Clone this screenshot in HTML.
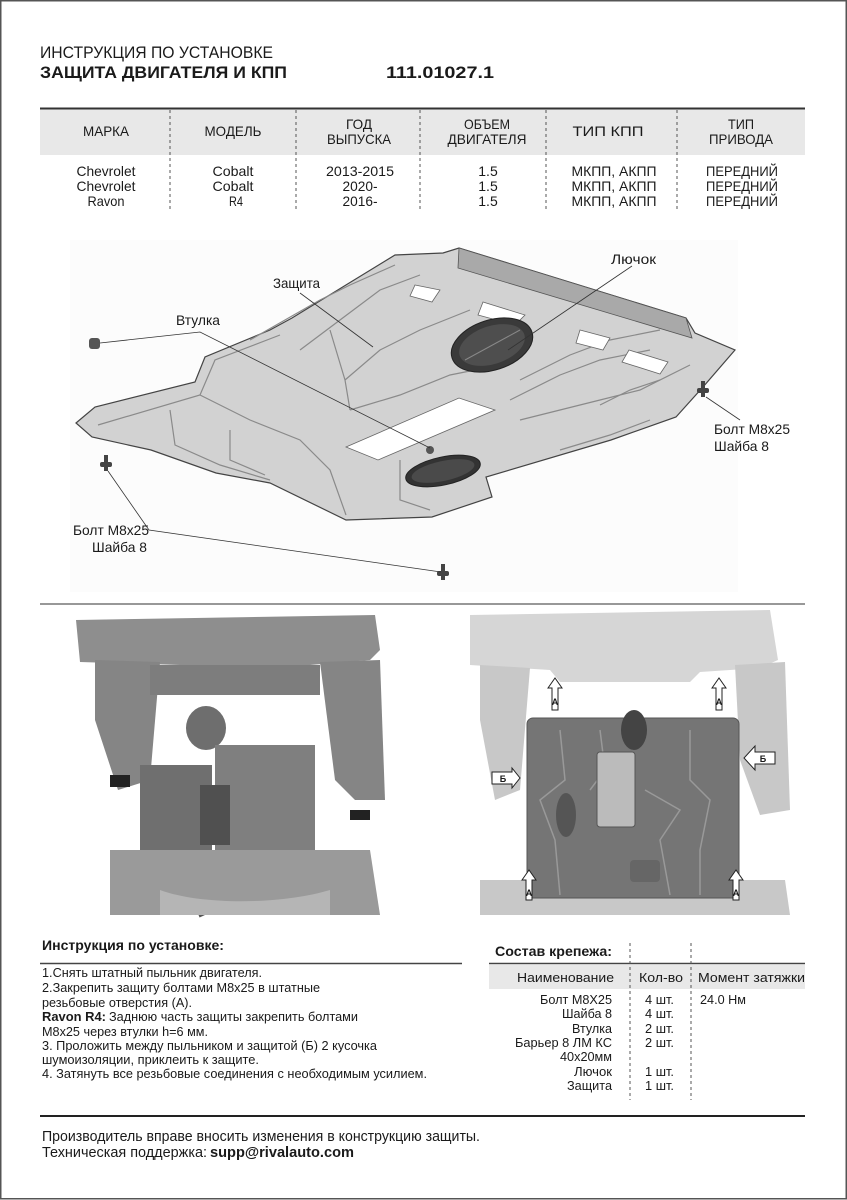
<!DOCTYPE html>
<html><head><meta charset="utf-8"><style>
html,body{margin:0;padding:0;background:#fff}
svg{display:block}
text{font-family:"Liberation Sans Narrow","Liberation Sans",sans-serif;fill:#1a1a1a}
.b{font-weight:bold}
</style></head><body>
<svg width="847" height="1200" viewBox="0 0 847 1200" xmlns="http://www.w3.org/2000/svg">
<rect x="0" y="0" width="847" height="1200" fill="#fff"/>
<rect x="0.75" y="0.75" width="845.5" height="1198" fill="none" stroke="#555" stroke-width="1.5"/>

<!-- Title -->
<text x="40" y="58" font-size="17" textLength="233" lengthAdjust="spacingAndGlyphs">ИНСТРУКЦИЯ ПО УСТАНОВКЕ</text>
<text x="40" y="78" font-size="17" class="b" textLength="247" lengthAdjust="spacingAndGlyphs">ЗАЩИТА ДВИГАТЕЛЯ И КПП</text>
<text x="386" y="78" font-size="17" class="b" textLength="108" lengthAdjust="spacingAndGlyphs">111.01027.1</text>

<!-- Vehicle table -->
<rect x="40" y="108" width="765" height="47" fill="#e8e8e8"/>
<line x1="40" y1="108.5" x2="805" y2="108.5" stroke="#333" stroke-width="2"/>
<g stroke="#555" stroke-width="1" stroke-dasharray="3,3">
<line x1="170" y1="110" x2="170" y2="210"/><line x1="296" y1="110" x2="296" y2="210"/>
<line x1="420" y1="110" x2="420" y2="210"/><line x1="546" y1="110" x2="546" y2="210"/>
<line x1="677" y1="110" x2="677" y2="210"/></g>
<g font-size="14" text-anchor="middle">
<text x="106" y="136" textLength="46" lengthAdjust="spacingAndGlyphs">МАРКА</text>
<text x="233" y="136" textLength="57" lengthAdjust="spacingAndGlyphs">МОДЕЛЬ</text>
<text x="359" y="129" textLength="26" lengthAdjust="spacingAndGlyphs">ГОД</text>
<text x="359" y="144" textLength="64" lengthAdjust="spacingAndGlyphs">ВЫПУСКА</text>
<text x="487" y="129" textLength="46" lengthAdjust="spacingAndGlyphs">ОБЪЕМ</text>
<text x="487" y="144" textLength="79" lengthAdjust="spacingAndGlyphs">ДВИГАТЕЛЯ</text>
<text x="608" y="136" textLength="71" lengthAdjust="spacingAndGlyphs">ТИП КПП</text>
<text x="741" y="129" textLength="26" lengthAdjust="spacingAndGlyphs">ТИП</text>
<text x="741" y="144" textLength="64" lengthAdjust="spacingAndGlyphs">ПРИВОДА</text>
</g>
<g font-size="14" text-anchor="middle">
<text x="106" y="176" textLength="59" lengthAdjust="spacingAndGlyphs">Chevrolet</text>
<text x="106" y="191" textLength="59" lengthAdjust="spacingAndGlyphs">Chevrolet</text>
<text x="106" y="206" textLength="37" lengthAdjust="spacingAndGlyphs">Ravon</text>
<text x="233" y="176" textLength="41" lengthAdjust="spacingAndGlyphs">Cobalt</text>
<text x="233" y="191" textLength="41" lengthAdjust="spacingAndGlyphs">Cobalt</text>
<text x="236" y="206" textLength="14" lengthAdjust="spacingAndGlyphs">R4</text>
<text x="360" y="176" textLength="68" lengthAdjust="spacingAndGlyphs">2013-2015</text>
<text x="360" y="191" textLength="35" lengthAdjust="spacingAndGlyphs">2020-</text>
<text x="360" y="206" textLength="35" lengthAdjust="spacingAndGlyphs">2016-</text>
<text x="488" y="176">1.5</text><text x="488" y="191">1.5</text><text x="488" y="206">1.5</text>
<text x="614" y="176" textLength="85" lengthAdjust="spacingAndGlyphs">МКПП, АКПП</text>
<text x="614" y="191" textLength="85" lengthAdjust="spacingAndGlyphs">МКПП, АКПП</text>
<text x="614" y="206" textLength="85" lengthAdjust="spacingAndGlyphs">МКПП, АКПП</text>
<text x="742" y="176" textLength="72" lengthAdjust="spacingAndGlyphs">ПЕРЕДНИЙ</text>
<text x="742" y="191" textLength="72" lengthAdjust="spacingAndGlyphs">ПЕРЕДНИЙ</text>
<text x="742" y="206" textLength="72" lengthAdjust="spacingAndGlyphs">ПЕРЕДНИЙ</text>
</g>

<!-- Shield illustration -->
<rect x="70" y="240" width="668" height="352" fill="#fcfcfc"/>
<polygon points="76,423 95,407 195,382 205,357 270,330 292,318 395,255 443,253 459,248 686,318 695,333 735,350 703,387 676,417 611,440 486,477 492,497 432,517 346,520 270,483 216,473 151,450 92,437" fill="#d2d2d2" stroke="#444" stroke-width="1.2"/>
<polygon points="459,248 686,318 692,338 458,268" fill="#a9a9a9" stroke="#555" stroke-width="0.8"/>
<g fill="none" stroke="#8a8a8a" stroke-width="1.2">
<path d="M98,425 L200,395 L215,360 L280,335"/>
<path d="M170,410 L175,445 L220,465 L270,480"/>
<path d="M200,395 L250,420 L300,440 L330,470 L346,515"/>
<path d="M250,340 L320,300 L350,285 L395,265"/>
<path d="M300,350 L340,320 L380,290 L420,275"/>
<path d="M345,380 L380,350 L420,330 L470,310"/>
<path d="M350,410 L400,395 L450,375 L500,365"/>
<path d="M520,380 L570,355 L610,340 L660,330"/>
<path d="M510,400 L560,375 L600,360 L650,350"/>
<path d="M520,420 L600,400 L640,390 L690,365"/>
<path d="M400,460 L400,500 L430,510"/>
<path d="M230,430 L230,460 L265,475"/>
<path d="M560,450 L610,435 L650,420"/>
<path d="M330,330 L345,380 L350,410"/>
<path d="M600,405 L630,390 L660,380"/>
</g>
<g fill="#fff" stroke="#666" stroke-width="0.8">
<polygon points="346,447 459,398 495,410 378,460"/>
<polygon points="415,285 440,290 432,302 410,296"/>
<polygon points="483,302 525,315 515,325 478,315"/>
<polygon points="580,330 610,338 603,350 576,343"/>
<polygon points="629,350 668,362 660,374 622,362"/>
</g>
<ellipse cx="492" cy="345" rx="42" ry="25" transform="rotate(-18 492 345)" fill="#3a3a3a" stroke="#222"/>
<ellipse cx="492" cy="345" rx="34" ry="19" transform="rotate(-18 492 345)" fill="#4e4e4e"/>
<line x1="465" y1="360" x2="520" y2="330" stroke="#888" stroke-width="1"/>
<ellipse cx="443" cy="471" rx="38" ry="14" transform="rotate(-12 443 471)" fill="#333" stroke="#222"/>
<ellipse cx="443" cy="471" rx="32" ry="10" transform="rotate(-12 443 471)" fill="#4a4a4a"/>
<circle cx="430" cy="450" r="4" fill="#555"/>
<!-- fasteners -->
<rect x="89" y="338" width="11" height="11" rx="3" fill="#555"/>
<g fill="#444">
<rect x="701" y="381" width="4" height="16"/><rect x="697" y="388" width="12" height="5" rx="2"/>
<rect x="104" y="455" width="4" height="16"/><rect x="100" y="462" width="12" height="5" rx="2"/>
<rect x="441" y="564" width="4" height="16"/><rect x="437" y="571" width="12" height="5" rx="2"/>
</g>
<!-- leader lines -->
<g stroke="#333" stroke-width="0.8" fill="none">
<polyline points="632,266 508,350"/>
<polyline points="300,293 373,347"/>
<polyline points="100,343 200,332 430,448"/>
<polyline points="706,397 740,420"/>
<polyline points="108,471 149,530 441,572"/>
</g>
<g font-size="14">
<text x="611" y="264" textLength="45" lengthAdjust="spacingAndGlyphs">Лючок</text>
<text x="273" y="288" textLength="47" lengthAdjust="spacingAndGlyphs">Защита</text>
<text x="176" y="325" textLength="44" lengthAdjust="spacingAndGlyphs">Втулка</text>
<text x="714" y="434" textLength="76" lengthAdjust="spacingAndGlyphs">Болт М8х25</text>
<text x="714" y="451" textLength="55" lengthAdjust="spacingAndGlyphs">Шайба 8</text>
<text x="73" y="535" textLength="76" lengthAdjust="spacingAndGlyphs">Болт М8х25</text>
<text x="92" y="552" textLength="55" lengthAdjust="spacingAndGlyphs">Шайба 8</text>
</g>

<line x1="40" y1="604" x2="805" y2="604" stroke="#777" stroke-width="1.5"/>

<!-- Left photo -->
<g>
<path d="M76,620 L375,615 L380,650 L370,660 L310,665 L300,672 L190,672 L180,665 L80,662 Z" fill="#8e8e8e"/>
<path d="M95,660 L160,662 L150,780 L118,790 L95,720 Z" fill="#858585"/>
<path d="M320,662 L380,660 L385,800 L355,800 L335,780 Z" fill="#858585"/>
<rect x="150" y="665" width="170" height="30" fill="#7d7d7d"/>
<ellipse cx="206" cy="728" rx="20" ry="22" fill="#6e6e6e"/>
<rect x="140" y="765" width="72" height="90" fill="#6f6f6f"/>
<rect x="215" y="745" width="100" height="110" fill="#7f7f7f"/>
<rect x="200" y="785" width="30" height="60" fill="#505050"/>
<path d="M205,860 C195,880 198,900 205,915" stroke="#555" stroke-width="12" fill="none"/>
<path d="M110,850 L370,850 L380,915 L110,915 Z" fill="#9a9a9a"/>
<path d="M160,890 C200,905 280,905 330,890 L330,915 L160,915 Z" fill="#b5b5b5"/>
<rect x="110" y="775" width="20" height="12" fill="#222"/>
<rect x="350" y="810" width="20" height="10" fill="#222"/>
</g>

<!-- Right photo -->
<g>
<path d="M470,615 L770,610 L778,660 L760,668 L700,672 L690,682 L560,682 L550,670 L470,665 Z" fill="#d6d6d6"/>
<path d="M480,665 L530,668 L520,790 L495,800 L480,720 Z" fill="#c8c8c8"/>
<path d="M735,665 L785,662 L790,810 L760,815 L740,760 Z" fill="#c8c8c8"/>
<path d="M480,880 L785,880 L790,915 L480,915 Z" fill="#c8c8c8"/>
<rect x="527" y="718" width="212" height="180" rx="6" fill="#757575" stroke="#555"/>
<g fill="none" stroke="#999" stroke-width="1.5">
<path d="M560,730 L565,780 L540,800 L555,840 L560,895"/>
<path d="M600,730 L605,770 L590,790"/>
<path d="M690,730 L690,780 L710,800 L700,850 L700,895"/>
<path d="M645,790 L680,810 L660,840 L670,895"/>
</g>
<ellipse cx="634" cy="730" rx="13" ry="20" fill="#444"/>
<rect x="597" y="752" width="38" height="75" rx="3" fill="#bbb" stroke="#555"/>
<ellipse cx="566" cy="815" rx="10" ry="22" fill="#555"/>
<rect x="630" y="860" width="30" height="22" rx="4" fill="#666"/>
<g fill="#fff" stroke="#222" stroke-width="1">
<polygon points="548,688 555,678 562,688 558,688 558,710 552,710 552,688"/>
<polygon points="712,688 719,678 726,688 722,688 722,710 716,710 716,688"/>
<polygon points="522,880 529,870 536,880 532,880 532,900 526,900 526,880"/>
<polygon points="729,880 736,870 743,880 739,880 739,900 733,900 733,880"/>
<polygon points="492,772 512,772 512,768 520,778 512,788 512,784 492,784"/>
<polygon points="775,752 755,752 755,746 744,758 755,770 755,764 775,764"/>
</g>
<g font-size="9" class="b" text-anchor="middle">
<text x="555" y="705">А</text><text x="719" y="705">А</text>
<text x="529" y="896">А</text><text x="736" y="896">А</text>
<text x="503" y="782">Б</text><text x="763" y="762">Б</text>
</g>
</g>

<!-- Instructions -->
<text x="42" y="950" font-size="14" class="b" textLength="182" lengthAdjust="spacingAndGlyphs">Инструкция по установке:</text>
<line x1="40" y1="963.5" x2="462" y2="963.5" stroke="#444" stroke-width="1.5"/>
<g font-size="13">
<text x="42" y="977" textLength="220" lengthAdjust="spacingAndGlyphs">1.Снять штатный пыльник двигателя.</text>
<text x="42" y="992" textLength="278" lengthAdjust="spacingAndGlyphs">2.Закрепить защиту болтами М8х25 в штатные</text>
<text x="42" y="1007" textLength="150" lengthAdjust="spacingAndGlyphs">резьбовые отверстия (А).</text>
<text x="42" y="1021" class="b" textLength="64" lengthAdjust="spacingAndGlyphs">Ravon R4:</text>
<text x="109" y="1021" textLength="249" lengthAdjust="spacingAndGlyphs">Заднюю часть защиты закрепить болтами</text>
<text x="42" y="1036" textLength="166" lengthAdjust="spacingAndGlyphs">М8х25 через втулки h=6 мм.</text>
<text x="42" y="1050" textLength="335" lengthAdjust="spacingAndGlyphs">3. Проложить между пыльником и защитой (Б) 2 кусочка</text>
<text x="42" y="1064" textLength="217" lengthAdjust="spacingAndGlyphs">шумоизоляции, приклеить к защите.</text>
<text x="42" y="1078" textLength="385" lengthAdjust="spacingAndGlyphs">4. Затянуть все резьбовые соединения с необходимым усилием.</text>
</g>

<!-- Fasteners table -->
<text x="495" y="956" font-size="14" class="b" textLength="117" lengthAdjust="spacingAndGlyphs">Состав крепежа:</text>
<line x1="489" y1="963.5" x2="805" y2="963.5" stroke="#444" stroke-width="1.5"/>
<rect x="489" y="965" width="316" height="24" fill="#e8e8e8"/>
<g stroke="#555" stroke-dasharray="3,3"><line x1="630" y1="943" x2="630" y2="1100"/><line x1="691" y1="943" x2="691" y2="1100"/></g>
<g font-size="13">
<text x="614" y="982" text-anchor="end" textLength="97" lengthAdjust="spacingAndGlyphs">Наименование</text>
<text x="639" y="982" textLength="44" lengthAdjust="spacingAndGlyphs">Кол-во</text>
<text x="698" y="982" textLength="107" lengthAdjust="spacingAndGlyphs">Момент затяжки</text>
<g text-anchor="end">
<text x="612" y="1004" textLength="72" lengthAdjust="spacingAndGlyphs">Болт М8Х25</text>
<text x="612" y="1018" textLength="50" lengthAdjust="spacingAndGlyphs">Шайба 8</text>
<text x="612" y="1033" textLength="40" lengthAdjust="spacingAndGlyphs">Втулка</text>
<text x="612" y="1047" textLength="97" lengthAdjust="spacingAndGlyphs">Барьер 8 ЛМ КС</text>
<text x="612" y="1061" textLength="52" lengthAdjust="spacingAndGlyphs">40х20мм</text>
<text x="612" y="1076" textLength="38" lengthAdjust="spacingAndGlyphs">Лючок</text>
<text x="612" y="1090" textLength="45" lengthAdjust="spacingAndGlyphs">Защита</text>
</g>
<text x="645" y="1004" textLength="29" lengthAdjust="spacingAndGlyphs">4 шт.</text>
<text x="645" y="1018" textLength="29" lengthAdjust="spacingAndGlyphs">4 шт.</text>
<text x="645" y="1033" textLength="29" lengthAdjust="spacingAndGlyphs">2 шт.</text>
<text x="645" y="1047" textLength="29" lengthAdjust="spacingAndGlyphs">2 шт.</text>
<text x="645" y="1076" textLength="29" lengthAdjust="spacingAndGlyphs">1 шт.</text>
<text x="645" y="1090" textLength="29" lengthAdjust="spacingAndGlyphs">1 шт.</text>
<text x="700" y="1004" textLength="46" lengthAdjust="spacingAndGlyphs">24.0 Нм</text>
</g>

<line x1="40" y1="1116" x2="805" y2="1116" stroke="#222" stroke-width="2"/>
<g font-size="15">
<text x="42" y="1141" textLength="438" lengthAdjust="spacingAndGlyphs">Производитель вправе вносить изменения в конструкцию защиты.</text>
<text x="42" y="1157" textLength="165" lengthAdjust="spacingAndGlyphs">Техническая поддержка:</text>
<text x="210" y="1157" class="b" textLength="144" lengthAdjust="spacingAndGlyphs">supp@rivalauto.com</text>
</g>
</svg>
</body></html>
